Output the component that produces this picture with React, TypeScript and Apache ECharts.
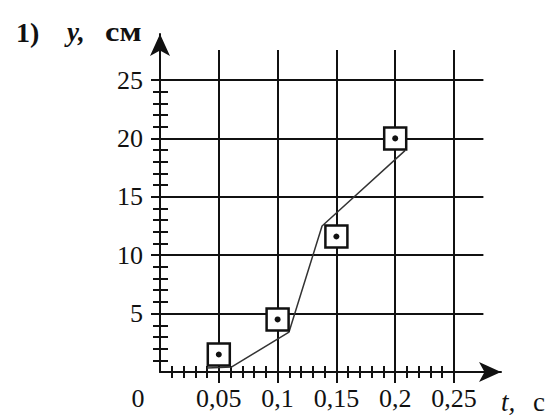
import React, { useEffect, useRef } from 'react';
import * as echarts from 'echarts';

// Axis ticks / labels
const xMajorTicks = [0.05, 0.1, 0.15, 0.2, 0.25];
const xLabelValues = [0, 0.05, 0.1, 0.15, 0.2, 0.25];
const yMajorTicks = [5, 10, 15, 20, 25];
const yLabelValues = [5, 10, 15, 20, 25];

// Measured points (squares)
const measuredT = [0.05, 0.1, 0.15, 0.2];
const measuredY = [1.5, 4.5, 11.6, 20];

// Drawn polyline
const curveT = [0.04, 0.061, 0.1097, 0.1378, 0.2083];
const curveY = [0.34, 0.43, 3.42, 12.5, 18.95];

const FONT = '"Liberation Serif", "Times New Roman", serif';
const INK = '#111';

const fmtX = (v: number) => String(+v.toFixed(2)).replace('.', ',');

export default function App() {
  const ref = useRef<HTMLDivElement>(null);
  useEffect(() => {
    if (!ref.current) return;
    const chart = echarts.init(ref.current, null, { renderer: 'svg' });
    const pts = measuredT.map((t, i) => [t, measuredY[i]]);
    const curve = curveT.map((t, i) => [t, curveY[i]]);
    chart.setOption({
      animation: false,
      backgroundColor: '#fff',
      grid: [
        { left: 160, top: 80, width: 294, height: 292 },
        { left: 160, top: 80, width: 294, height: 292 },
        { left: 160, top: 50, width: 323.4, height: 322 },
        { left: 160, top: 34, width: 341, height: 338 },
      ],
      xAxis: [
        {
          gridIndex: 0, type: 'value', min: 0, max: 0.25, interval: 0.05,
          axisLine: { show: false },
          axisTick: { show: true, length: 11, customValues: xMajorTicks, lineStyle: { color: INK, width: 2 } },
          minorTick: { show: true, splitNumber: 5, length: 6, lineStyle: { color: INK, width: 2 } },
          axisLabel: {
            show: true, customValues: xLabelValues, margin: 13,
            fontFamily: FONT, fontSize: 26, color: INK,
            formatter: (v: number) => (v === 0 ? '{z|0}' : fmtX(v)),
            rich: { z: { fontFamily: FONT, fontSize: 26, color: INK, padding: [0, 44, 0, 0] } },
          },
          splitLine: { show: false },
        },
        {
          gridIndex: 1, type: 'value', min: 0, max: 0.25, interval: 0.05,
          axisLine: { show: false },
          axisTick: { show: false, inside: true },
          minorTick: { show: true, splitNumber: 5, length: 6, lineStyle: { color: INK, width: 2 } },
          axisLabel: { show: false },
          splitLine: { show: false },
        },
        {
          gridIndex: 2, type: 'value', min: 0, max: 0.275, interval: 0.05,
          axisLine: { show: false }, axisTick: { show: false }, axisLabel: { show: false },
          splitLine: { show: true, showMinLine: false, showMaxLine: false, lineStyle: { color: INK, width: 2 } },
        },
        {
          gridIndex: 3, type: 'value', min: 0, max: 1,
          axisLine: { show: true, symbol: ['none', 'arrow'], symbolSize: [15, 22], lineStyle: { color: INK, width: 2 } },
          axisTick: { show: false }, axisLabel: { show: false }, splitLine: { show: false },
        },
      ],
      yAxis: [
        {
          gridIndex: 0, type: 'value', min: 0, max: 25, interval: 5,
          axisLine: { show: false },
          axisTick: { show: true, length: 9, customValues: yMajorTicks, lineStyle: { color: INK, width: 2 } },
          minorTick: { show: true, splitNumber: 5, length: 7, lineStyle: { color: INK, width: 2 } },
          axisLabel: {
            show: true, customValues: yLabelValues, margin: 17,
            fontFamily: FONT, fontSize: 26, color: INK,
            formatter: (v: number) => (v === 0 ? '' : String(v)),
          },
          splitLine: { show: false },
        },
        {
          gridIndex: 1, type: 'value', min: 0, max: 25, interval: 5,
          axisLine: { show: false },
          axisTick: { show: false, inside: true },
          minorTick: { show: true, splitNumber: 5, length: 8, lineStyle: { color: INK, width: 2 } },
          axisLabel: { show: false },
          splitLine: { show: false },
        },
        {
          gridIndex: 2, type: 'value', min: 0, max: 27.57, interval: 5,
          axisLine: { show: false }, axisTick: { show: false }, axisLabel: { show: false },
          splitLine: { show: true, showMinLine: false, showMaxLine: false, lineStyle: { color: INK, width: 2 } },
        },
        {
          gridIndex: 3, type: 'value', min: 0, max: 1,
          axisLine: { show: true, symbol: ['none', 'arrow'], symbolSize: [15, 22], lineStyle: { color: INK, width: 2 } },
          axisTick: { show: false }, axisLabel: { show: false }, splitLine: { show: false },
        },
      ],
      series: [
        {
          type: 'line', xAxisIndex: 0, yAxisIndex: 0, data: curve,
          showSymbol: false, symbol: 'none', clip: false, z: 3,
          lineStyle: { color: '#333', width: 1.5 },
        },
        {
          type: 'scatter', xAxisIndex: 0, yAxisIndex: 0, data: pts,
          symbol: 'rect', symbolSize: 22, clip: false, z: 4,
          itemStyle: { color: '#fff', borderColor: INK, borderWidth: 2.5, opacity: 1 },
        },
        {
          type: 'scatter', xAxisIndex: 0, yAxisIndex: 0, data: pts,
          symbol: 'circle', symbolSize: 6, clip: false, z: 5,
          itemStyle: { color: INK, opacity: 1 },
        },
      ],
      graphic: [
        { type: 'text', left: 16, top: 18, style: { text: '1)', font: `bold 28px ${FONT}`, fill: INK } },
        { type: 'text', left: 67, top: 18, style: { text: 'y,', font: `italic bold 27px ${FONT}`, fill: INK } },
        { type: 'text', x: 105, y: 18, scaleX: 1.2, style: { text: 'см', font: `bold 27px ${FONT}`, fill: INK } },
        { type: 'text', left: 501, top: 388, style: { text: 't,', font: `italic 27px ${FONT}`, fill: INK } },
        { type: 'text', left: 533, top: 388, style: { text: 'с', font: `27px ${FONT}`, fill: INK } },
      ],
    });
    return () => chart.dispose();
  }, []);
  return <div ref={ref} style={{ position: 'fixed', left: 0, top: 0, width: 551, height: 418 }} />;
}
